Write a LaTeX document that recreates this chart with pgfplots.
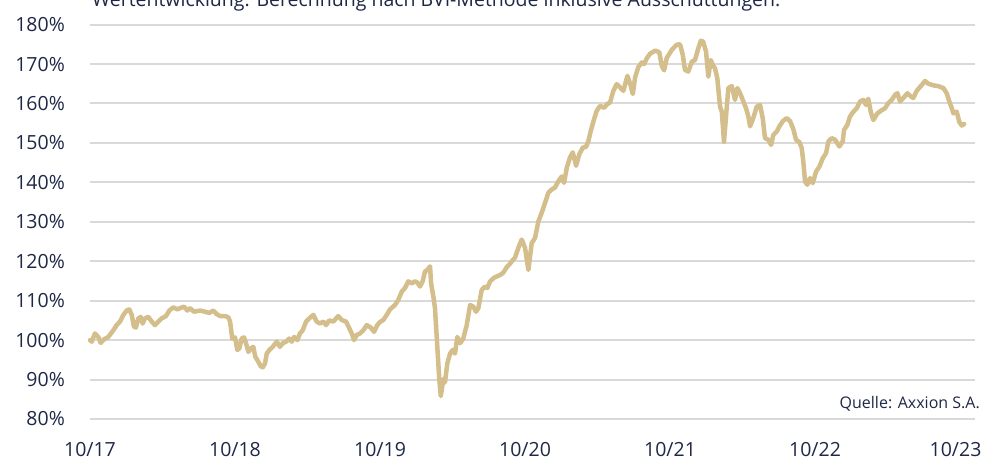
\documentclass[border=0pt]{standalone}
\usepackage{fontspec}
\setmainfont{Open Sans}
\usepackage{pgfplots}
\pgfplotsset{compat=1.18}
\definecolor{navy}{RGB}{30,40,70}
\definecolor{gold}{RGB}{212,190,139}
\definecolor{gridgray}{RGB}{217,217,217}
\begin{document}
\begin{tikzpicture}
\begin{axis}[
  scale only axis,
  width=885bp, height=394.4bp,
  xmin=0, xmax=6.103, ymin=80, ymax=180,
  axis line style={draw=none},
  major tick length=0pt,
  xtick={0,1,2,3,4,5,6},
  xticklabels={10/17,10/18,10/19,10/20,10/21,10/22,\hspace*{-9bp}10/23},
  ytick={80,90,...,180},
  yticklabel={\pgfmathprintnumber{\tick}\%},
  /pgf/number format/assume math mode=true,
  ymajorgrids,
  grid style={draw=gridgray, line width=2bp},
  ticklabel style={text=navy},
  yticklabel style={font=\fontsize{19.5bp}{22bp}\selectfont, anchor=east, inner sep=0pt, xshift=-25bp},
  xticklabel style={font=\fontsize{19.5bp}{22bp}\selectfont, anchor=north, inner sep=0pt, yshift=-23bp},
  clip=false,
]
\addplot[draw=gold, line width=4.5bp, line join=round, line cap=round] coordinates {
(0,100) (0.012,99.6) (0.034,101.7) (0.057,100.8) (0.074,99.3) (0.097,100.2)
(0.126,100.8) (0.161,102.5) (0.184,103.8) (0.207,104.7) (0.230,106.4) (0.253,107.5)
(0.271,107.8) (0.288,106.4) (0.303,103.4) (0.317,103.2) (0.333,105.5) (0.350,105.9)
(0.363,104.2) (0.379,105.5) (0.402,105.9) (0.426,104.7) (0.448,103.8) (0.471,104.7)
(0.494,105.5) (0.524,106.1) (0.547,107.5) (0.574,108.3) (0.602,107.8) (0.621,108.1)
(0.648,108.5) (0.671,107.5) (0.690,108.1) (0.717,107.2) (0.759,107.5) (0.793,107.2)
(0.823,106.9) (0.850,107.5) (0.874,106.6) (0.897,106.1) (0.931,106.1) (0.954,105.8)
(0.966,104.7) (0.981,100.4) (1.000,100.7) (1.016,97.5) (1.030,97.9) (1.046,100.4)
(1.062,100.7) (1.076,99.2) (1.092,97.0) (1.108,97.9) (1.126,98.3) (1.140,95.8)
(1.161,94.5) (1.177,93.4) (1.191,93.1) (1.207,94.1) (1.219,96.6) (1.237,97.5)
(1.260,98.3) (1.288,99.6) (1.310,98.3) (1.329,99.2) (1.352,99.6) (1.374,100.4)
(1.391,99.6) (1.407,100.8) (1.430,100.0) (1.448,101.7) (1.467,102.5) (1.490,104.7)
(1.512,105.5) (1.540,106.4) (1.563,104.7) (1.586,104.2) (1.609,104.7) (1.628,103.8)
(1.650,105.0) (1.678,104.7) (1.712,106.1) (1.736,105.1) (1.766,104.7) (1.788,103.0)
(1.805,101.7) (1.821,100.0) (1.839,101.3) (1.862,101.7) (1.885,102.5) (1.908,103.8)
(1.936,103.2) (1.959,102.1) (1.981,103.8) (2.000,104.6) (2.023,105.1) (2.046,106.4)
(2.069,107.8) (2.103,108.9) (2.126,110.2) (2.150,112.3) (2.172,113.2) (2.195,114.9)
(2.219,114.4) (2.241,114.9) (2.257,114.6) (2.276,113.6) (2.294,114.9) (2.310,117.4)
(2.326,117.8) (2.345,118.7) (2.352,114.4) (2.368,111.0) (2.379,108.1) (2.391,100.8)
(2.402,94.1) (2.409,90.0) (2.419,85.8) (2.426,87.5) (2.437,90.2) (2.448,89.3)
(2.464,94.1) (2.483,96.6) (2.501,97.5) (2.517,96.6) (2.533,100.8) (2.552,99.2)
(2.574,100.4) (2.598,103.8) (2.621,108.9) (2.643,108.5) (2.662,107.2) (2.678,108.1)
(2.701,112.7) (2.724,113.6) (2.740,113.2) (2.759,114.9) (2.786,115.8) (2.809,116.2)
(2.832,116.6) (2.850,117.1) (2.874,118.5) (2.897,119.4) (2.920,120.5) (2.931,120.9)
(2.954,123.4) (2.977,125.5) (3.000,123.4) (3.023,117.8) (3.046,124.6) (3.069,125.9)
(3.092,130.1) (3.115,132.3) (3.138,134.8) (3.161,137.4) (3.184,138.2) (3.207,138.7)
(3.230,140.3) (3.253,141.5) (3.269,139.9) (3.288,143.7) (3.310,146.3) (3.329,147.6)
(3.352,144.2) (3.374,147.1) (3.398,148.8) (3.421,149.0) (3.437,150.5) (3.453,153.0)
(3.476,156.0) (3.494,158.1) (3.517,159.4) (3.545,158.9) (3.568,159.9) (3.586,160.2)
(3.609,163.2) (3.632,164.9) (3.655,164.1) (3.678,163.2) (3.706,167.0) (3.729,164.5)
(3.743,162.4) (3.759,166.6) (3.781,169.2) (3.805,170.4) (3.821,170.0) (3.839,171.4)
(3.862,172.6) (3.897,173.4) (3.926,173.0) (3.943,169.5) (3.959,168.4) (3.977,171.5)
(4.012,173.6) (4.046,174.9) (4.069,175.0) (4.088,172.3) (4.103,168.5) (4.126,168.1)
(4.150,170.6) (4.172,171.0) (4.195,174.0) (4.212,175.9) (4.228,175.7) (4.248,173.2)
(4.264,166.8) (4.281,171.0) (4.294,169.8) (4.310,168.9) (4.326,166.4) (4.345,159.2)
(4.357,157.9) (4.372,150.3) (4.386,156.7) (4.402,163.9) (4.426,164.4) (4.448,160.9)
(4.464,163.9) (4.483,162.6) (4.506,160.5) (4.524,158.8) (4.540,156.7) (4.552,154.2)
(4.574,156.3) (4.598,159.2) (4.621,159.6) (4.639,156.3) (4.655,151.2) (4.678,150.8)
(4.697,149.5) (4.712,152.0) (4.736,152.9) (4.754,154.2) (4.777,155.5) (4.805,156.3)
(4.828,155.5) (4.850,153.5) (4.869,150.8) (4.892,150.2) (4.908,148.7) (4.919,145.3)
(4.931,140.2) (4.947,139.4) (4.966,141.1) (4.984,139.8) (5.007,142.7) (5.030,144.0)
(5.053,146.1) (5.076,147.4) (5.092,150.4) (5.115,151.2) (5.138,150.8) (5.168,149.1)
(5.191,150.4) (5.200,153.3) (5.223,154.6) (5.241,156.7) (5.264,157.9) (5.288,158.8)
(5.310,160.5) (5.333,160.9) (5.352,159.6) (5.367,161.2) (5.384,157.9) (5.402,155.8)
(5.430,157.5) (5.460,158.3) (5.483,158.8) (5.505,160.1) (5.529,160.9) (5.552,162.2)
(5.568,162.6) (5.586,160.5) (5.609,161.4) (5.637,162.6) (5.660,161.8) (5.678,161.4)
(5.701,163.2) (5.729,164.4) (5.759,165.7) (5.781,165.0) (5.816,164.6) (5.850,164.4)
(5.885,163.9) (5.908,162.6) (5.926,160.5) (5.943,158.8) (5.954,157.5) (5.977,157.9)
(5.995,155.3) (6.012,154.4) (6.028,154.8)
};
\end{axis}
\node[anchor=base west, inner sep=0pt, text=navy, font=\fontsize{19.5bp}{22bp}\selectfont] at (2bp,412bp) {Wertentwicklung: Berechnung nach BVI-Methode inklusive Ausschüttungen.};
\node[anchor=base east, inner sep=0pt, text=navy, font=\fontsize{16bp}{18bp}\selectfont] at (890bp,11bp) {Quelle: Axxion S.A.};
\pgfresetboundingbox
\path[use as bounding box] (-90bp,-43bp) rectangle (894bp,419bp);
\end{tikzpicture}
\end{document}
